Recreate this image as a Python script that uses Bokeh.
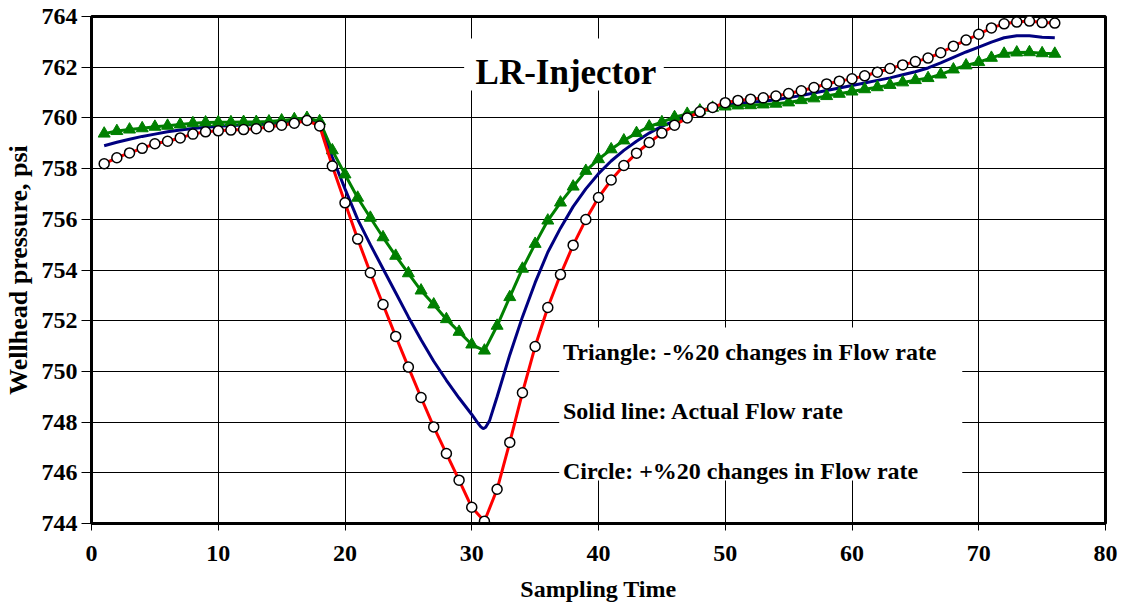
from bokeh.plotting import figure
from bokeh.models import Range1d, Label, FixedTicker
from bokeh.embed import file_html
from bokeh.resources import INLINE

# ---------------- data ----------------
sampling_time = list(range(1, 77))

plus20_circle = [
    758.19, 758.43, 758.62, 758.80, 758.98, 759.08, 759.21, 759.36, 759.45, 759.49,
    759.52, 759.54, 759.57, 759.65, 759.71, 759.79, 759.90, 759.68, 758.10, 756.65,
    755.22, 753.89, 752.64, 751.38, 750.17, 748.97, 747.81, 746.76, 745.71, 744.64,
    744.09, 745.35, 747.20, 749.16, 750.98, 752.52, 753.82, 754.98, 755.99, 756.86,
    757.55, 758.12, 758.61, 759.03, 759.40, 759.71, 760.00, 760.24, 760.41, 760.60,
    760.69, 760.74, 760.79, 760.86, 760.96, 761.07, 761.20, 761.34, 761.45, 761.54,
    761.66, 761.80, 761.95, 762.09, 762.22, 762.36, 762.57, 762.83, 763.07, 763.30,
    763.55, 763.71, 763.78, 763.82, 763.76, 763.74,
]

minus20_triangle = [
    759.38, 759.48, 759.54, 759.59, 759.65, 759.69, 759.74, 759.79, 759.82, 759.83,
    759.83, 759.84, 759.84, 759.86, 759.90, 759.95, 760.00, 759.87, 758.72, 757.77,
    756.85, 756.06, 755.29, 754.56, 753.87, 753.19, 752.64, 752.06, 751.56, 751.06,
    750.82, 751.80, 752.93, 754.05, 755.03, 755.95, 756.66, 757.29, 757.91, 758.37,
    758.76, 759.11, 759.40, 759.66, 759.83, 760.03, 760.16, 760.29, 760.40, 760.45,
    760.49, 760.50, 760.53, 760.56, 760.61, 760.70, 760.77, 760.86, 760.95, 761.04,
    761.13, 761.21, 761.30, 761.40, 761.49, 761.57, 761.71, 761.91, 762.07, 762.20,
    762.37, 762.53, 762.58, 762.59, 762.55, 762.53,
]

# solid line (actual flow rate) is read more densely around its rounded minimum
actual_time = [
    1, 2, 3, 4, 5, 6, 7, 8, 9, 10, 11, 12, 13, 14, 15, 16, 17, 18, 19, 20,
    21, 22, 23, 24, 25, 26, 27, 28, 29, 30, 30.4, 30.7, 30.9, 31.1, 31.4, 32,
    33, 34, 35, 36, 37, 38, 39, 40, 41, 42, 43, 44, 45, 46, 47, 48, 49, 50,
    51, 52, 53, 54, 55, 56, 57, 58, 59, 60, 61, 62, 63, 64, 65, 66, 67, 68,
    69, 70, 71, 72, 73, 74, 75, 76,
]
actual_solid = [
    758.90, 759.04, 759.16, 759.27, 759.36, 759.45, 759.52, 759.58, 759.63, 759.67,
    759.70, 759.72, 759.74, 759.76, 759.80, 759.85, 759.93, 759.78, 758.45, 757.20,
    756.00, 755.00, 754.05, 753.10, 752.15, 751.25, 750.40, 749.65, 748.95, 748.30,
    748.02, 747.82, 747.74, 747.80, 748.05, 749.00,
    750.65, 752.15, 753.50, 754.70, 755.65, 756.50, 757.20, 757.80, 758.30, 758.72,
    759.08, 759.40, 759.67, 759.88, 760.08, 760.26, 760.40, 760.52, 760.58, 760.62,
    760.66, 760.72, 760.80, 760.88, 760.98, 761.08, 761.18, 761.28, 761.38, 761.48,
    761.58, 761.70, 761.82, 761.97, 762.17, 762.39, 762.60, 762.79, 762.99, 763.16,
    763.24, 763.24, 763.18, 763.16,
]

x_ticks = [0, 10, 20, 30, 40, 50, 60, 70, 80]
y_ticks = [744, 746, 748, 750, 752, 754, 756, 758, 760, 762, 764]

title_text = "LR-Injector"
note_lines = [
    "Triangle: -%20 changes in Flow rate",
    "Solid line: Actual Flow rate",
    "Circle: +%20 changes in Flow rate",
]
x_label = "Sampling Time"
y_label = "Wellhead pressure, psi"

FONT = "Liberation Serif"

# ---------------- figure ----------------
p = figure(width=1124, height=612, output_backend="svg", toolbar_location=None,
           x_range=Range1d(0, 80), y_range=Range1d(744, 764),
           min_border_left=90, min_border_right=19, min_border_top=16, min_border_bottom=89)
p.background_fill_color = "white"
p.border_fill_color = "white"
p.outline_line_color = "black"
p.outline_line_width = 3

for ax, ticks in ((p.xaxis[0], x_ticks), (p.yaxis[0], y_ticks)):
    ax.ticker = FixedTicker(ticks=ticks)
    ax.axis_line_color = "black"
    ax.axis_line_width = 3
    ax.major_tick_line_color = "black"
    ax.major_tick_line_width = 1
    ax.minor_tick_line_color = None
    ax.major_tick_in = 0
    ax.major_label_text_font = FONT
    ax.major_label_text_font_style = "bold"
    ax.major_label_text_font_size = "24px"
    ax.major_label_text_color = "black"
    ax.axis_label_text_font = FONT
    ax.axis_label_text_font_style = "bold"
    ax.axis_label_text_color = "black"

p.xaxis.axis_label = x_label
p.yaxis.axis_label = y_label
p.xaxis.axis_label_text_font_size = "24px"
p.yaxis.axis_label_text_font_size = "26px"
p.xaxis.major_tick_out = 7
p.xaxis.major_label_standoff = 15
p.xaxis.axis_label_standoff = 12
p.yaxis.major_tick_out = 10
p.yaxis.major_label_standoff = 4
p.yaxis.axis_label_standoff = 6

p.xgrid.grid_line_color = "black"
p.ygrid.grid_line_color = "black"
p.xgrid.grid_line_width = 1
p.ygrid.grid_line_width = 1

# white boxes behind the title and the notes (cover grid lines)
p.quad(left=[29.4, 36.9], right=[45.15, 68.7], bottom=[761.08, 745.70], top=[763.13, 751.73],
       fill_color="white", line_color=None)

# series
p.line(actual_time, actual_solid, line_color="#000080", line_width=3)
p.line(sampling_time, minus20_triangle, line_color="#008000", line_width=3)
p.scatter(sampling_time, minus20_triangle, marker="triangle", size=12,
          fill_color="#008000", line_color="#008000")
p.line(sampling_time, plus20_circle, line_color="#FF0000", line_width=3)
p.scatter(sampling_time, plus20_circle, marker="circle", size=10,
          fill_color="white", line_color="black", line_width=1.5)

# texts
p.add_layout(Label(x=37.43, y=761.79, text=title_text, text_font=FONT, text_font_style="bold",
                   text_font_size="35px", text_align="center", text_baseline="alphabetic",
                   text_color="black"))
for yv, t in zip([750.76, 748.42, 746.09], note_lines):
    p.add_layout(Label(x=37.2, y=yv, text=t, text_font=FONT, text_font_style="bold",
                       text_font_size="24px", text_align="left", text_baseline="alphabetic",
                       text_color="black"))

open("out.html", "w").write(file_html(p, INLINE))
